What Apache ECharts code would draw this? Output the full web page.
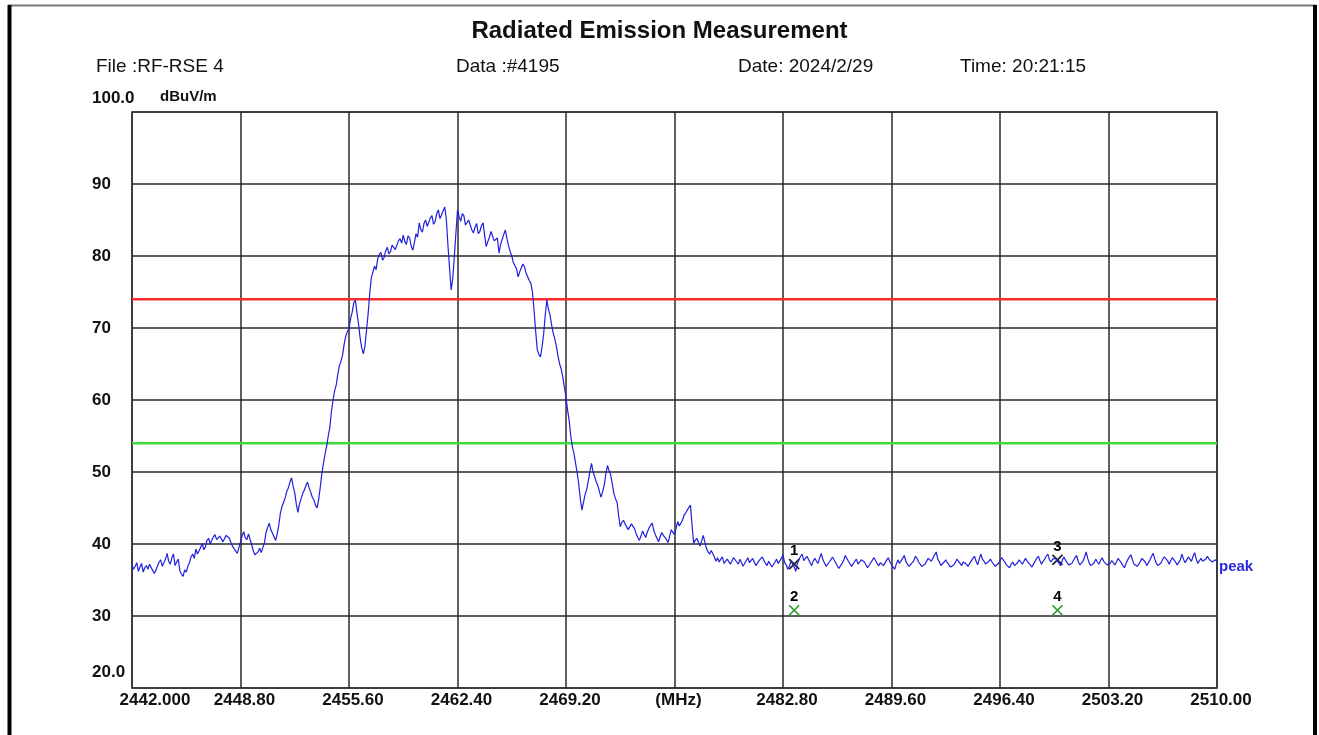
<!DOCTYPE html>
<html>
<head>
<meta charset="utf-8">
<script src="https://cdn.jsdelivr.net/npm/echarts@6/dist/echarts.min.js"></script>
<style>
html,body{margin:0;padding:0;background:#fff;}
#chart{width:1319px;height:735px;}
</style>
</head>
<body>
<div id="chart"></div>
<script>
// ---- texts ----
const chartTitle = 'Radiated Emission Measurement';
const headerTexts = ['File :RF-RSE 4', 'Data :#4195', 'Date: 2024/2/29', 'Time: 20:21:15'];
const yUnit = 'dBuV/m';
const traceName = 'peak';

// ---- axes ----
const xTickValues = [2442, 2448.8, 2455.6, 2462.4, 2469.2, 2476, 2482.8, 2489.6, 2496.4, 2503.2, 2510];
const xTickLabels = ['2442.000', '2448.80', '2455.60', '2462.40', '2469.20', '(MHz)', '2482.80', '2489.60', '2496.40', '2503.20', '2510.00'];
const yTickValues = [20, 30, 40, 50, 60, 70, 80, 90, 100];
const yTickLabels = ['20.0', '30', '40', '50', '60', '70', '80', '90', '100.0'];

// ---- limits (dBuV/m) ----
const limitPeak = 74;
const limitAvg = 54;

// ---- sweep (MHz) ----
const sweepStart = 2442;
const sweepStep = 0.1;
// measured peak trace, dBuV/m, one value per sweep step (one row = 1 MHz)
const traceLevels = [
  37.1, 36.5, 36.9, 37.4, 36.2, 36.8, 37.3, 36.1, 36.7, 37.0, // 2442
  36.5, 37.2, 37.4, 36.3, 35.9, 36.4, 36.6, 37.5, 37.8, 36.9, // 2443
  36.8, 37.9, 38.7, 37.6, 37.2, 38.1, 38.6, 37.0, 37.5, 37.9, // 2444
  36.3, 35.8, 35.5, 36.4, 36.1, 36.9, 37.4, 38.2, 38.6, 38.0, // 2445
  39.3, 38.6, 38.4, 39.5, 40.1, 39.2, 39.6, 40.5, 40.8, 40.0, // 2446
  40.2, 41.0, 41.3, 40.6, 40.4, 41.1, 41.0, 40.3, 40.5, 41.2, // 2447
  41.4, 40.8, 40.2, 39.7, 39.6, 39.0, 38.7, 39.5, 40.3, 41.1, // 2448
  41.7, 40.9, 40.6, 41.4, 41.2, 39.9, 39.1, 38.5, 38.3, 38.9, // 2449
  39.4, 38.8, 39.0, 40.2, 41.6, 42.3, 42.9, 42.0, 41.8, 41.0, // 2450
  40.5, 41.4, 42.6, 44.3, 45.2, 45.8, 46.4, 47.3, 47.8, 48.6, // 2451
  49.2, 48.0, 47.1, 45.5, 44.4, 45.6, 46.3, 47.0, 47.5, 48.1, // 2452
  48.6, 47.8, 47.2, 46.5, 46.1, 45.4, 45.0, 46.2, 47.9, 49.8, // 2453
  51.2, 52.5, 53.6, 55.0, 56.2, 58.4, 60.0, 61.3, 62.1, 63.6, // 2454
  64.8, 65.4, 66.3, 67.8, 68.9, 69.5, 69.9, 71.3, 72.2, 73.5, // 2455
  73.9, 72.1, 70.5, 68.6, 67.2, 66.4, 67.5, 69.8, 72.0, 74.8, // 2456
  77.0, 77.8, 78.6, 78.1, 79.6, 80.2, 80.5, 79.4, 79.8, 80.7, // 2457
  81.2, 80.3, 80.6, 81.5, 81.7, 80.9, 81.0, 82.1, 82.4, 81.8, // 2458
  82.9, 82.0, 81.6, 82.8, 82.5, 81.4, 80.8, 81.9, 83.1, 82.6, // 2459
  84.6, 83.7, 83.3, 84.5, 85.0, 84.1, 84.2, 85.3, 85.6, 84.4, // 2460
  84.8, 85.9, 86.4, 85.2, 85.7, 86.3, 86.8, 85.1, 81.5, 78.4, // 2461
  75.3, 76.8, 79.9, 83.2, 86.4, 85.5, 84.8, 85.9, 85.6, 84.3, // 2462
  84.1, 85.0, 84.9, 83.6, 83.2, 84.0, 84.5, 83.1, 83.4, 84.2, // 2463
  84.6, 82.9, 81.3, 82.0, 82.6, 83.4, 83.2, 82.1, 81.9, 82.5, // 2464
  80.4, 81.6, 82.3, 83.0, 83.6, 82.4, 81.4, 80.6, 80.0, 79.1, // 2465
  79.3, 78.2, 77.1, 77.8, 78.0, 78.9, 78.5, 77.6, 77.4, 76.6, // 2466
  76.2, 74.9, 72.4, 69.5, 67.0, 66.3, 66.0, 67.4, 69.2, 71.8, // 2467
  73.9, 72.6, 71.8, 70.4, 69.3, 68.5, 67.4, 66.1, 65.0, 64.3, // 2468
  63.2, 61.7, 60.4, 58.6, 57.1, 55.0, 53.5, 52.6, 51.2, 49.9, // 2469
  48.3, 46.2, 44.7, 45.8, 46.9, 47.6, 48.8, 50.1, 51.2, 50.0, // 2470
  49.3, 48.6, 48.1, 47.2, 46.5, 47.3, 48.2, 49.8, 50.9, 50.2, // 2471
  49.6, 48.4, 47.0, 46.3, 45.8, 43.9, 42.4, 43.0, 43.3, 42.8, // 2472
  42.6, 42.0, 41.9, 42.8, 43.0, 42.1, 41.4, 40.9, 40.5, 41.1, // 2473
  41.8, 41.3, 40.9, 41.7, 42.2, 42.6, 42.9, 41.9, 41.3, 40.8, // 2474
  40.3, 41.0, 41.6, 41.2, 41.0, 40.6, 40.2, 41.1, 42.0, 41.6, // 2475
  41.3, 42.2, 43.1, 42.5, 42.4, 43.3, 44.0, 44.3, 44.7, 45.1, // 2476
  45.4, 42.6, 40.1, 40.5, 40.8, 40.2, 39.7, 40.4, 41.2, 40.3, // 2477
  39.4, 38.9, 38.6, 39.1, 38.9, 38.2, 37.6, 38.1, 37.5, 37.9, // 2478
  38.2, 37.3, 37.1, 37.9, 38.0, 37.2, 37.4, 38.1, 38.3, 37.5, // 2479
  37.2, 37.9, 37.8, 36.9, 36.9, 37.7, 38.1, 37.4, 37.3, 38.0, // 2480
  37.9, 37.0, 36.8, 37.7, 37.6, 38.2, 38.4, 37.3, 37.0, 37.6, // 2481
  37.7, 36.8, 36.6, 37.5, 37.9, 37.3, 37.2, 38.0, 38.5, 37.4, // 2482
  37.1, 36.5, 36.9, 37.6, 37.4, 36.8, 36.2, 37.3, 37.8, 38.3, // 2483
  38.6, 37.7, 37.5, 38.3, 38.2, 37.4, 37.0, 37.7, 38.0, 37.6, // 2484
  37.3, 38.1, 38.7, 37.8, 37.6, 36.9, 36.9, 37.5, 37.8, 38.2, // 2485
  38.1, 37.4, 37.2, 36.6, 36.7, 37.3, 37.7, 38.4, 38.3, 37.6, // 2486
  37.4, 36.9, 36.8, 37.6, 37.9, 37.2, 37.1, 37.8, 38.0, 37.5, // 2487
  37.3, 36.7, 36.6, 37.4, 37.5, 38.1, 38.2, 37.3, 37.0, 37.4, // 2488
  37.6, 37.0, 36.9, 37.8, 38.1, 37.5, 37.4, 36.8, 36.5, 37.2, // 2489
  37.8, 37.3, 37.1, 38.0, 38.4, 37.6, 37.2, 36.9, 36.8, 37.4, // 2490
  37.7, 38.3, 38.0, 37.5, 37.3, 36.9, 36.7, 37.2, 37.6, 38.0, // 2491
  38.2, 37.6, 37.4, 38.5, 38.9, 37.9, 37.5, 37.0, 36.9, 37.5, // 2492
  37.8, 37.4, 37.2, 36.8, 36.6, 37.1, 37.4, 37.9, 38.1, 37.3, // 2493
  37.0, 37.5, 37.7, 37.2, 36.9, 37.3, 37.5, 38.0, 38.3, 37.6, // 2494
  37.1, 37.9, 38.6, 37.9, 37.6, 37.2, 37.0, 37.6, 37.9, 37.5, // 2495
  37.3, 36.9, 36.8, 37.3, 37.7, 38.1, 38.2, 37.5, 37.1, 36.9, // 2496
  36.7, 37.2, 37.5, 37.0, 36.9, 37.4, 37.8, 37.5, 37.2, 37.6, // 2497
  38.0, 37.6, 37.4, 37.1, 36.8, 37.2, 37.6, 38.0, 38.3, 37.7, // 2498
  37.2, 37.6, 37.9, 38.3, 38.6, 37.8, 37.5, 37.9, 38.1, 38.0, // 2499
  37.8, 37.3, 37.0, 37.7, 38.2, 37.8, 37.4, 37.1, 36.9, 37.3, // 2500
  37.7, 38.1, 38.4, 37.6, 37.1, 37.3, 37.6, 38.2, 38.9, 38.0, // 2501
  37.3, 37.0, 36.8, 37.4, 37.9, 37.5, 37.2, 37.7, 38.1, 37.6, // 2502
  37.5, 37.1, 36.9, 37.3, 37.7, 37.4, 37.1, 37.5, 38.0, 37.7, // 2503
  37.4, 37.0, 36.7, 37.3, 37.8, 38.2, 38.5, 37.8, 37.2, 37.0, // 2504
  36.9, 37.2, 37.6, 38.0, 38.2, 37.5, 37.0, 37.4, 37.8, 38.3, // 2505
  38.7, 37.9, 37.3, 37.0, 36.8, 37.4, 37.9, 38.2, 38.4, 37.7, // 2506
  37.2, 37.7, 38.1, 37.8, 37.5, 37.1, 36.9, 37.8, 38.6, 37.9, // 2507
  37.4, 37.8, 38.2, 37.9, 37.6, 38.3, 38.8, 37.9, 37.3, 37.7, // 2508
  38.0, 37.6, 37.5, 37.9, 38.3, 37.9, 37.7, 37.5, 37.4, 37.8, // 2509
  37.6                                                        // 2510
];

// ---- markers ----
const markerNames = ['1', '2', '3', '4'];
const markerFreqs = [2483.5, 2483.5, 2500.0, 2500.0];
const markerLevels = [37.2, 30.8, 37.8, 30.8];
const markerColors = ['#222222', '#2a9a2a', '#222222', '#2a9a2a'];

// ---- build ----
const FONT = '"Liberation Sans", Arial, sans-serif';
const traceData = traceLevels.map((v, i) => [Math.round((sweepStart + i * sweepStep) * 1000) / 1000, v]);
const xMin = xTickValues[0], xMax = xTickValues[xTickValues.length - 1];
const markerData = markerNames.map((n, i) => ({
  name: n,
  value: [markerFreqs[i], markerLevels[i]],
  itemStyle: { color: 'rgba(0,0,0,0)', borderColor: markerColors[i], borderWidth: 1.7, opacity: 1 }
}));

const chart = echarts.init(document.getElementById('chart'), null, { renderer: 'canvas' });

const headerLefts = [96, 456, 738, 960];
const titles = [{
  text: chartTitle, left: 'center', top: 19, padding: 0,
  textStyle: { fontFamily: FONT, fontSize: 24, fontWeight: 'bold', color: '#111' }
}].concat(headerTexts.map((t, i) => ({
  text: t, left: headerLefts[i], top: 57, padding: 0,
  textStyle: { fontFamily: FONT, fontSize: 19, fontWeight: 'normal', color: '#111' }
})));

const option = {
  animation: false,
  backgroundColor: '#ffffff',
  title: titles,
  grid: {
    left: 132, right: 102, top: 112, bottom: 47,
    show: true, borderColor: '#7a7a7a', borderWidth: 2, backgroundColor: 'transparent'
  },
  xAxis: {
    type: 'value', min: xMin, max: xMax,
    axisLine: { show: false },
    axisTick: { show: false, customValues: xTickValues },
    splitLine: { show: true, lineStyle: { color: '#2a2a2a', width: 1.5 } },
    axisLabel: {
      show: true,
      customValues: xTickValues,
      margin: 4,
      padding: [0, 0, 0, 8],
      fontFamily: FONT, fontSize: 17, fontWeight: 'bold', color: '#111',
      formatter: function (val) {
        const k = xTickValues.findIndex(v => Math.abs(v - val) < 1e-6);
        if (k < 0) return '';
        return k === 0 ? '{f|' + xTickLabels[k] + '}' : xTickLabels[k];
      },
      rich: { f: { fontFamily: FONT, fontSize: 17, fontWeight: 'bold', color: '#111', padding: [0, 0, 0, 38] } }
    }
  },
  yAxis: {
    type: 'value', min: yTickValues[0], max: yTickValues[yTickValues.length - 1], interval: 10,
    name: yUnit, nameLocation: 'end', nameGap: 15,
    nameTextStyle: { fontFamily: FONT, fontSize: 15, fontWeight: 'bold', color: '#111', align: 'left', verticalAlign: 'middle', padding: [0, 0, 0, 28] },
    axisLine: { show: false },
    axisTick: { show: false },
    splitLine: { show: true, lineStyle: { color: '#2a2a2a', width: 1.5 } },
    axisLabel: {
      show: true, align: 'left', margin: 40,
      fontFamily: FONT, fontSize: 17, fontWeight: 'bold', color: '#111',
      formatter: function (val) {
        const k = yTickValues.indexOf(val);
        if (k < 0) return '';
        if (k === yTickValues.length - 1) return '{top|' + yTickLabels[k] + '}';
        if (k === 0) return '{bot|' + yTickLabels[k] + '}';
        return yTickLabels[k];
      },
      rich: {
        top: { fontFamily: FONT, fontSize: 17, fontWeight: 'bold', color: '#111', padding: [0, 0, 28, 0] },
        bot: { fontFamily: FONT, fontSize: 17, fontWeight: 'bold', color: '#111', padding: [0, 0, 32, 0] }
      }
    }
  },
  series: [
    {
      name: 'limitPeak', type: 'line', silent: true, symbol: 'none',
      data: [[xMin, limitPeak], [xMax, limitPeak]],
      lineStyle: { color: '#ff2b2b', width: 2.5 }
    },
    {
      name: 'limitAvg', type: 'line', silent: true, symbol: 'none',
      data: [[xMin, limitAvg], [xMax, limitAvg]],
      lineStyle: { color: '#3ddc3d', width: 2.5 }
    },
    {
      name: traceName, type: 'line', showSymbol: false, symbol: 'none',
      data: traceData,
      lineStyle: { color: '#2020dc', width: 1.2 },
      endLabel: {
        show: true, formatter: traceName, distance: 2, offset: [0, 6],
        fontFamily: FONT, fontSize: 15, fontWeight: 'bold', color: '#2a2ad8'
      }
    },
    {
      name: 'markers', type: 'scatter',
      symbol: 'path://M0,0L10,10M10,0L0,10', symbolSize: 10,
      itemStyle: { opacity: 1 },
      data: markerData,
      label: {
        show: true, position: 'top', distance: 0, formatter: '{b}', opacity: 1,
        fontFamily: FONT, fontSize: 15, fontWeight: 'bold', color: '#000'
      }
    }
  ],
  graphic: [
    { type: 'line', silent: true, shape: { x1: 8, y1: 5.5, x2: 1316, y2: 5.5 }, style: { stroke: '#7a7a7a', lineWidth: 2 } },
    { type: 'line', silent: true, shape: { x1: 9.5, y1: 5, x2: 9.5, y2: 735 }, style: { stroke: '#000', lineWidth: 4 } },
    { type: 'line', silent: true, shape: { x1: 1315, y1: 5, x2: 1315, y2: 735 }, style: { stroke: '#000', lineWidth: 4 } }
  ]
};
chart.setOption(option);
</script>
</body>
</html>
